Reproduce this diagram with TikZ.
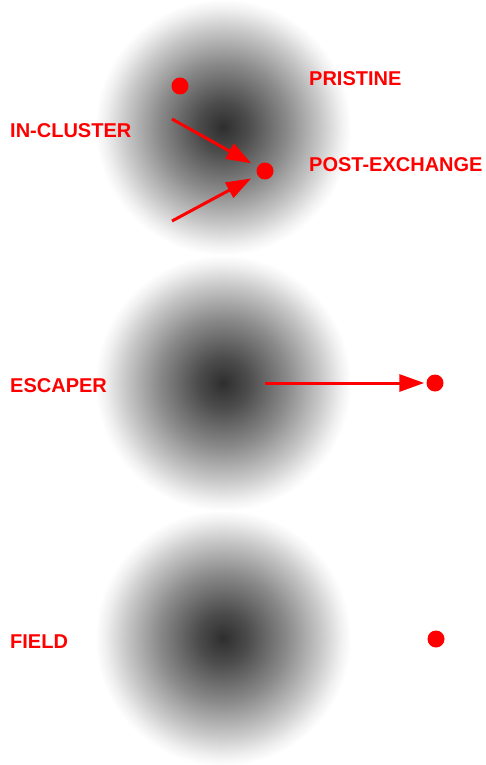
\documentclass[tikz,border=0pt]{standalone}
\usepackage{fontspec}
\setmainfont{Liberation Sans}
\usetikzlibrary{arrows.meta}
% soft grey cloud: dark core fading to white at the rim (rim = 25bp)
\pgfdeclareradialshading{cloud}{\pgfpoint{0bp}{0bp}}{%
  color(0bp)=(black!82);
  color(5bp)=(black!70);
  color(12.5bp)=(black!46);
  color(19bp)=(black!22);
  color(23bp)=(black!6);
  color(25bp)=(white);
  color(50bp)=(white)}
\tikzset{
  cluster/.style={circle, inner sep=0pt, minimum size=256pt, shading=cloud},
  star/.style={circle, fill=red, inner sep=0pt, minimum size=17pt},
  lbl/.style={anchor=base west, inner sep=0pt, text=red, font=\bfseries\fontsize{20}{24}\selectfont},
  move/.style={draw=red, line width=3pt, -{Triangle[length=25pt,width=17pt]}}
}
\begin{document}
\begin{tikzpicture}[x=1pt, y=-1pt]
  \useasboundingbox[fill=white] (0,0) rectangle (486,765);
  % three clusters
  \node[cluster] (c1) at (223,127) {};
  \node[cluster] (c2) at (223,383) {};
  \node[cluster] (c3) at (223,638) {};
  % stars
  \node[star] (pris) at (180,86) {};
  \node[star] (post) at (265,171) {};
  \node[star] (esc)  at (435,383) {};
  \node[star] (fld)  at (436,639) {};
  % arrow tails
  \coordinate (in1) at (172,119);
  \coordinate (in2) at (172,221);
  \coordinate (out) at (265,383);
  \draw[move, shorten >=7pt] (in1) -- (post);
  \draw[move, shorten >=7pt] (in2) -- (post);
  \draw[move, shorten >=2pt] (out) -- (esc);
  % labels
  \node[lbl] (tpris) at (309,86) {PRISTINE};
  \node[lbl] (tpost) at (309,171) {POST-EXCHANGE};
  \node[lbl] (tin)   at (10,137) {IN-CLUSTER};
  \node[lbl] (tesc)  at (10,392) {ESCAPER};
  \node[lbl] (tfld)  at (10,648) {FIELD};
\end{tikzpicture}
\end{document}
